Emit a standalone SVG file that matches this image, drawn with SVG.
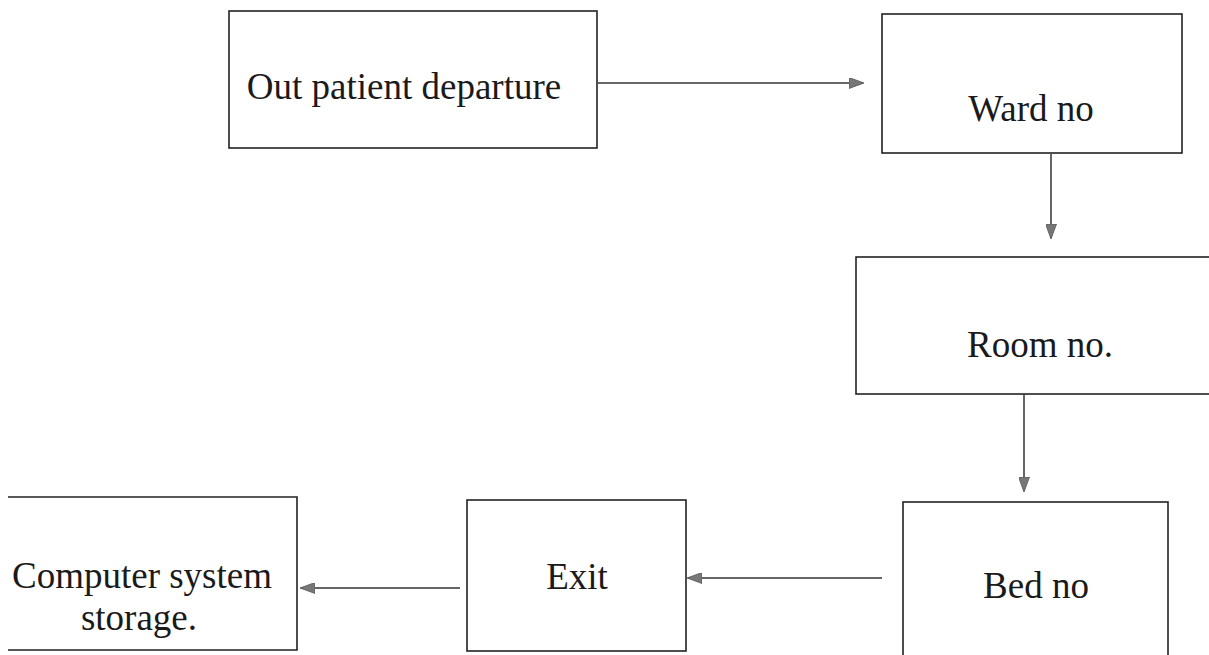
<svg xmlns="http://www.w3.org/2000/svg" width="1209" height="655" viewBox="0 0 1209 655">
<defs>
<style>
.box{fill:#fff;stroke:#222;stroke-width:1.6}
.lbl{font-family:"Liberation Serif","Times New Roman",serif;font-size:37px;fill:#1a1a1a;text-anchor:middle}
.con{stroke:#333;stroke-width:1.5;fill:none}
</style>
<marker id="ah" markerWidth="15" markerHeight="11" refX="14" refY="5.5" orient="auto" markerUnits="userSpaceOnUse">
<path d="M0,0 L15,5.5 L0,11 Z" fill="#777" stroke="#555" stroke-width="0.8"/>
</marker>
</defs>
<rect width="1209" height="655" fill="#fff"/>
<g id="n-outpatient"><rect class="box" x="229" y="11" width="368" height="137"/><text class="lbl" x="404" y="99">Out patient departure</text></g>
<g id="n-ward"><rect class="box" x="882" y="14" width="300" height="139"/><text class="lbl" x="1031" y="121">Ward no</text></g>
<g id="n-room"><rect class="box" x="856" y="257" width="360" height="137"/><text class="lbl" x="1040" y="357">Room no.</text></g>
<g id="n-bed"><rect class="box" x="903" y="502" width="265" height="160"/><text class="lbl" x="1036" y="598">Bed no</text></g>
<g id="n-exit"><rect class="box" x="467" y="500" width="219" height="151"/><text class="lbl" x="577" y="589">Exit</text></g>
<g id="n-storage"><path class="box" d="M8,497 H297 V650 H8"/><text class="lbl" x="142" y="588">Computer system</text><text class="lbl" x="139" y="630">storage.</text></g>
<g id="connectors">
<line class="con" x1="598" y1="83" x2="863" y2="83" marker-end="url(#ah)"/>
<line class="con" x1="1051" y1="154" x2="1051" y2="238" marker-end="url(#ah)"/>
<line class="con" x1="1024" y1="394" x2="1024" y2="491" marker-end="url(#ah)"/>
<line class="con" x1="882" y1="578" x2="688" y2="578" marker-end="url(#ah)"/>
<line class="con" x1="460" y1="588" x2="301" y2="588" marker-end="url(#ah)"/>
</g>
</svg>
